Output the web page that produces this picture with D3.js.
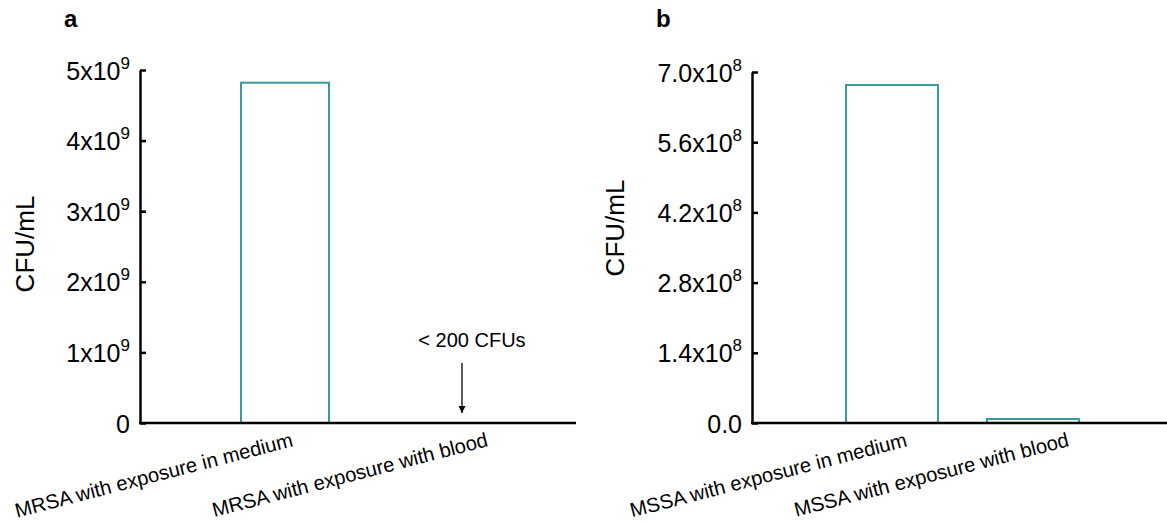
<!DOCTYPE html>
<html>
<head>
<meta charset="utf-8">
<script src="https://cdn.jsdelivr.net/npm/d3@7"></script>
<style>
  html, body { margin: 0; padding: 0; background: #fff; }
  svg { display: block; font-family: "Liberation Sans", Arial, sans-serif; }
</style>
</head>
<body>
<svg id="chart" width="1167" height="523"></svg>
<script>
// ---------- data ----------
const aCategories = ["MRSA with exposure in medium", "MRSA with exposure with blood"];
const aValues = [4.82e9, 0];
const aTicks = [0, 1e9, 2e9, 3e9, 4e9, 5e9];
const aTickLabels = ["0", "1x10^9", "2x10^9", "3x10^9", "4x10^9", "5x10^9"];
const aAnnotation = "< 200 CFUs";

const bCategories = ["MSSA with exposure in medium", "MSSA with exposure with blood"];
const bValues = [6.74e8, 8e6];
const bTicks = [0, 1.4e8, 2.8e8, 4.2e8, 5.6e8, 7.0e8];
const bTickLabels = ["0.0", "1.4x10^8", "2.8x10^8", "4.2x10^8", "5.6x10^8", "7.0x10^8"];

const yTitle = "CFU/mL";
const teal = "#3a9a97";

const svg = d3.select("#chart");

function drawPanel(cfg) {
  const g = svg.append("g");
  const y = d3.scaleLinear().domain([0, cfg.yMax]).range([cfg.y0, cfg.y1]);
  const x = d3.scaleBand().domain(cfg.categories)
    .range([cfg.axisX, cfg.bandEnd])
    .paddingInner(cfg.padIn).paddingOuter(cfg.padOut);

  // bars
  g.selectAll("rect.bar").data(cfg.values).enter().append("rect")
    .attr("class", "bar")
    .attr("x", (d, i) => x(cfg.categories[i]))
    .attr("width", x.bandwidth())
    .attr("y", d => y(d))
    .attr("height", d => cfg.y0 - y(d))
    .attr("fill", "none")
    .attr("stroke", teal)
    .attr("stroke-width", 2);

  // y axis
  const yAxis = d3.axisLeft(y).tickValues(cfg.ticks)
    .tickSizeInner(-6).tickSizeOuter(0).tickPadding(10).tickFormat(() => "");
  const ag = g.append("g").attr("transform", `translate(${cfg.axisX},0)`).call(yAxis);
  ag.select(".domain").attr("stroke", "#000").attr("stroke-width", 2.5);
  ag.selectAll(".tick line").attr("stroke", "#000").attr("stroke-width", 2.5);
  ag.selectAll(".tick text").each(function(d, i) {
    const t = d3.select(this)
      .attr("font-size", 25).attr("fill", "#000")
      .attr("font-family", "Liberation Sans, Arial, sans-serif")
      .attr("dy", "0.36em");
    const parts = cfg.tickLabels[i].split("^");
    t.text(null);
    t.append("tspan").text(parts[0]);
    if (parts.length > 1) {
      t.append("tspan").attr("dy", -11).attr("font-size", 17).text(parts[1]);
    }
  });

  // x axis line
  g.append("line")
    .attr("x1", cfg.axisX - 1).attr("x2", cfg.xAxisEnd)
    .attr("y1", cfg.y0).attr("y2", cfg.y0)
    .attr("stroke", "#000").attr("stroke-width", 2.5);

  // category labels
  cfg.categories.forEach((c, i) => {
    const cx = x(c) + x.bandwidth() / 2 + cfg.labelShift[i];
    const cy = cfg.y0 + 23;
    g.append("text")
      .attr("transform", `translate(${cx},${cy}) rotate(-14.5)`)
      .attr("text-anchor", "end")
      .attr("font-size", 20.2)
      .attr("fill", "#000")
      .text(c);
  });

  // y title
  g.append("text")
    .attr("transform", `translate(${cfg.titleX},${cfg.titleY}) rotate(-90)`)
    .attr("text-anchor", "middle")
    .attr("font-size", 26)
    .attr("fill", "#000")
    .text(yTitle);

  // panel letter
  g.append("text")
    .attr("x", cfg.letterX).attr("y", 27)
    .attr("font-size", 24).attr("font-weight", "bold")
    .attr("fill", "#000")
    .text(cfg.letter);

  return { x, y, g };
}

const pa = drawPanel({
  categories: aCategories, values: aValues, ticks: aTicks, tickLabels: aTickLabels,
  yMax: 5e9, y0: 423, y1: 70, axisX: 140, bandEnd: 607, padIn: 0.503, padOut: 0.571,
  xAxisEnd: 576, labelShift: [9, 27], titleX: 34, titleY: 244, letter: "a", letterX: 64
});

const pb = drawPanel({
  categories: bCategories, values: bValues, ticks: bTicks, tickLabels: bTickLabels,
  yMax: 7e8, y0: 423, y1: 72, axisX: 752, bandEnd: 1173, padIn: 0.348, padOut: 0.667,
  xAxisEnd: 1167, labelShift: [16, 37], titleX: 624, titleY: 228, letter: "b", letterX: 656
});

// annotation arrow for MRSA with blood
const ax = pa.x(aCategories[1]) + pa.x.bandwidth() / 2;
svg.append("defs").append("marker")
  .attr("id", "arrowhead").attr("viewBox", "0 0 10 10")
  .attr("refX", 10).attr("refY", 5)
  .attr("markerWidth", 7).attr("markerHeight", 9)
  .attr("markerUnits", "userSpaceOnUse")
  .attr("orient", "auto")
  .append("path").attr("d", "M0,0 L10,5 L0,10 z").attr("fill", "#000");
svg.append("line")
  .attr("x1", ax).attr("x2", ax)
  .attr("y1", pa.y(0) - 60).attr("y2", pa.y(0) - 10)
  .attr("stroke", "#000").attr("stroke-width", 1.3)
  .attr("marker-end", "url(#arrowhead)");
svg.append("text")
  .attr("x", ax + 10).attr("y", pa.y(0) - 76)
  .attr("text-anchor", "middle")
  .attr("font-size", 20).attr("fill", "#000")
  .text(aAnnotation);
</script>
</body>
</html>
